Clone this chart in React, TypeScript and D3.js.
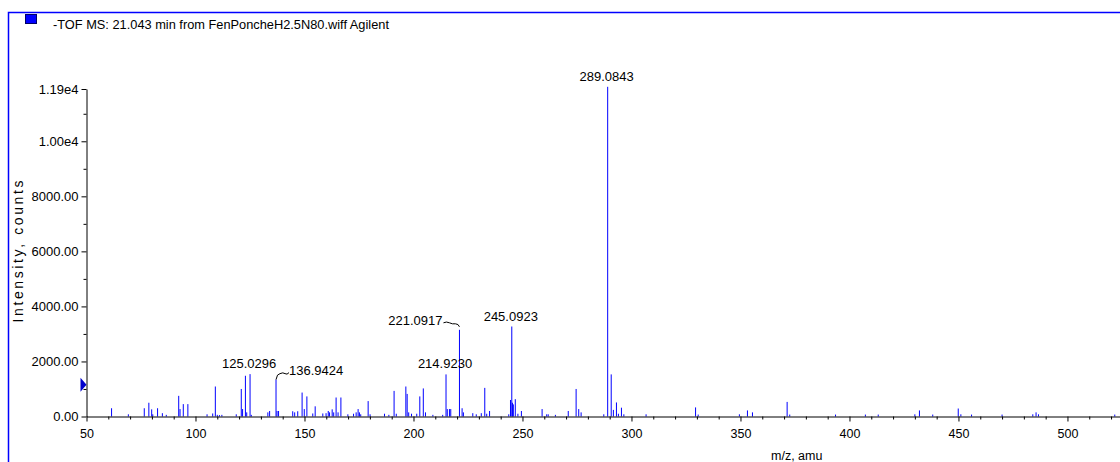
import React, { useEffect, useRef } from 'react';
import * as d3 from 'd3';

// peaks: m/z and intensity (counts)
const peakMz = [
  61.5, 69.2, 76.5, 78.6, 79.9, 80.4, 82.6, 84.8, 86.6, 92.3, 92.9, 94.4, 96.5,
  105.3, 107.9, 109.1, 110.0, 111.0, 112.1, 118.7, 121.0, 121.6, 122.9, 123.5, 125.0296, 125.6,
  133.2, 134.0, 136.9424, 137.4, 138.1, 144.6, 145.5, 146.9, 148.9, 149.9, 151.1, 153.8, 154.9,
  158.4, 159.9, 160.9, 161.5, 162.7, 163.4, 164.5, 165.4, 166.7, 169.9, 172.5, 173.7, 174.6,
  175.2, 175.8, 179.2, 180.1, 186.7, 188.7, 191.1, 192.1, 196.5, 197.1, 197.8, 199.1,
  201.5, 202.9, 204.5, 205.5, 208.9, 213.4, 214.923, 215.5, 216.5, 217.1, 221.0917, 222.3,
  222.9, 227.2, 228.8, 231.1, 232.7, 233.6, 234.9, 243.7, 244.5, 245.0923, 245.4, 245.8,
  246.7, 247.9, 249.5, 259.0, 261.1, 261.8, 265.1, 271.0, 274.6, 275.8, 276.9, 287.3,
  289.0843, 290.7, 291.7, 293.1, 294.0, 295.4, 296.5, 306.7, 329.4, 330.6, 349.5, 353.2,
  355.5, 371.4, 372.6, 393.6, 407.3, 413.2, 430.0, 432.1, 438.2, 449.9, 451.1, 456.0,
  470.0, 484.1, 485.6, 486.7, 521.7,
];
const peakCounts = [
  300, 80, 300, 500, 260, 80, 300, 120, 60, 750, 270, 450, 450,
  80, 110, 1090, 60, 50, 60, 80, 1000, 270, 1480, 150, 1540, 60,
  150, 200, 1340, 200, 200, 190, 150, 190, 870, 270, 730, 110, 370,
  110, 120, 200, 150, 260, 150, 690, 150, 690, 80, 100, 150, 270,
  150, 80, 560, 80, 100, 60, 930, 100, 1090, 820, 150, 100,
  100, 730, 1020, 150, 60, 60, 1530, 270, 270, 270, 3150, 300,
  150, 120, 80, 120, 1040, 100, 200, 80, 600, 3270, 500, 440,
  630, 100, 200, 270, 80, 80, 60, 200, 1000, 270, 150, 80,
  11980, 1530, 240, 510, 100, 320, 80, 80, 330, 70, 80, 220,
  150, 530, 70, 70, 70, 70, 80, 220, 70, 290, 80, 70,
  70, 80, 150, 80, 70,
];

// labelled peaks
const labelMz = [125.0296, 136.9424, 214.923, 221.0917, 245.0923, 289.0843];
const labelText = ['125.0296', '136.9424', '214.9230', '221.0917', '245.0923', '289.0843'];

// axis ticks
const yTickValues = [0, 2000, 4000, 6000, 8000, 10000, 11900];
const yTickLabels = ['0.00', '2000.00', '4000.00', '6000.00', '8000.00', '1.00e4', '1.19e4'];
const yMinorTicks = [1000, 3000, 5000, 7000, 9000, 11000];
const xTickValues = [50, 100, 150, 200, 250, 300, 350, 400, 450, 500];
const xMinorTicks = d3.range(60, 530, 10).filter((v) => v % 50 !== 0);

const title = '-TOF MS: 21.043 min from FenPoncheH2.5N80.wiff Agilent';
const thresholdLevel = 1150;

const App = () => {
  const ref = useRef<SVGSVGElement>(null);

  useEffect(() => {
    drawChart();
  }, []);

  const drawChart = () => {
    const svg = d3.select(ref.current);
    svg.selectAll('*').remove();

    const font = 'Liberation Sans, Arial, sans-serif';
    const x = d3.scaleLinear().domain([50, 524.1]).range([86.5, 1120]);
    const y = d3.scaleLinear().domain([0, 11900]).range([416.5, 89]);

    // blue pane frame
    svg.append('rect')
      .attr('x', 8.5).attr('y', 12.5)
      .attr('width', 1200).attr('height', 500)
      .attr('fill', 'none')
      .attr('stroke', '#0000ff')
      .attr('stroke-width', 1.5);

    // legend swatch + title
    svg.append('rect')
      .attr('x', 25.5).attr('y', 14.5)
      .attr('width', 11).attr('height', 9)
      .attr('fill', '#0000ff')
      .attr('stroke', '#000066');
    svg.append('text')
      .attr('x', 53).attr('y', 29)
      .attr('font-family', font)
      .attr('font-size', 12.8)
      .attr('fill', '#000')
      .text(title);

    // sticks
    svg.append('g')
      .selectAll('line')
      .data(peakMz)
      .join('line')
      .attr('x1', (d) => x(d))
      .attr('x2', (d) => x(d))
      .attr('y1', y(0))
      .attr('y2', (d, i) => y(peakCounts[i]))
      .attr('stroke', '#0000ff')
      .attr('stroke-width', 1);

    // y axis
    const yAxis = svg.append('g')
      .attr('transform', `translate(${x(50)},0)`)
      .call(
        d3.axisLeft(y)
          .tickValues(yTickValues)
          .tickFormat((d) => yTickLabels[yTickValues.indexOf(d as number)])
          .tickSize(5)
          .tickSizeOuter(0)
          .tickPadding(3)
      );
    svg.append('g')
      .attr('transform', `translate(${x(50)},0)`)
      .call(d3.axisLeft(y).tickValues(yMinorTicks).tickFormat(() => '').tickSize(3).tickSizeOuter(0))
      .select('.domain').remove();

    // x axis
    const xAxis = svg.append('g')
      .attr('transform', `translate(0,${y(0)})`)
      .call(
        d3.axisBottom(x)
          .tickValues(xTickValues)
          .tickFormat(d3.format('d'))
          .tickSize(5)
          .tickSizeOuter(0)
          .tickPadding(7.5)
      );
    svg.append('g')
      .attr('transform', `translate(0,${y(0)})`)
      .call(d3.axisBottom(x).tickValues(xMinorTicks).tickFormat(() => '').tickSize(3).tickSizeOuter(0))
      .select('.domain').remove();

    yAxis.selectAll('text').attr('font-family', font).attr('font-size', 13).attr('fill', '#000');
    xAxis.selectAll('text').attr('font-family', font).attr('font-size', 12.5).attr('fill', '#000');
    svg.selectAll('.domain, .tick line').attr('stroke', '#000');

    // threshold marker on the y axis
    const ty = y(thresholdLevel);
    svg.append('path')
      .attr('d', `M${x(50) - 6},${ty - 7}L${x(50)},${ty}L${x(50) - 6},${ty + 7}Z`)
      .attr('fill', '#0000cc');

    // axis titles
    svg.append('text')
      .attr('transform', 'translate(23,251.5) rotate(-90)')
      .attr('text-anchor', 'middle')
      .attr('font-family', font)
      .attr('font-size', 14)
      .attr('textLength', 142)
      .attr('lengthAdjust', 'spacing')
      .attr('fill', '#000')
      .text('Intensity, counts');
    svg.append('text')
      .attr('x', 771).attr('y', 460)
      .attr('font-family', font)
      .attr('font-size', 12.5)
      .attr('fill', '#000')
      .text('m/z, amu');

    // peak labels
    const labels = svg.append('g').attr('font-family', font).attr('font-size', 13).attr('fill', '#000');
    labelMz.forEach((mz, i) => {
      const px = x(mz);
      const py = y(peakCounts[peakMz.indexOf(mz)]);
      if (labelText[i] === '221.0917') {
        labels.append('text')
          .attr('x', px - 17).attr('y', py - 5)
          .attr('text-anchor', 'end')
          .text(labelText[i]);
        labels.append('path')
          .attr('d', `M${px - 16},${py - 7}q3,-1.5 6,0t6,1q3,0 4,3`)
          .attr('fill', 'none')
          .attr('stroke', '#000')
          .attr('stroke-width', 1);
      } else if (labelText[i] === '136.9424') {
        labels.append('text')
          .attr('x', px + 13).attr('y', py - 5)
          .attr('text-anchor', 'start')
          .text(labelText[i]);
        labels.append('path')
          .attr('d', `M${px},${py}Q${px + 1},${py - 6} ${px + 4},${py - 6}q3,-1.5 5,0t4,-1`)
          .attr('fill', 'none')
          .attr('stroke', '#000')
          .attr('stroke-width', 1);
      } else {
        labels.append('text')
          .attr('x', px - 1).attr('y', py - 6)
          .attr('text-anchor', 'middle')
          .text(labelText[i]);
      }
    });
  };

  return (
    <svg
      ref={ref}
      width={1120}
      height={462}
      style={{ position: 'absolute', left: 0, top: 0, background: '#fff', display: 'block' }}
    />
  );
};

export default App;
